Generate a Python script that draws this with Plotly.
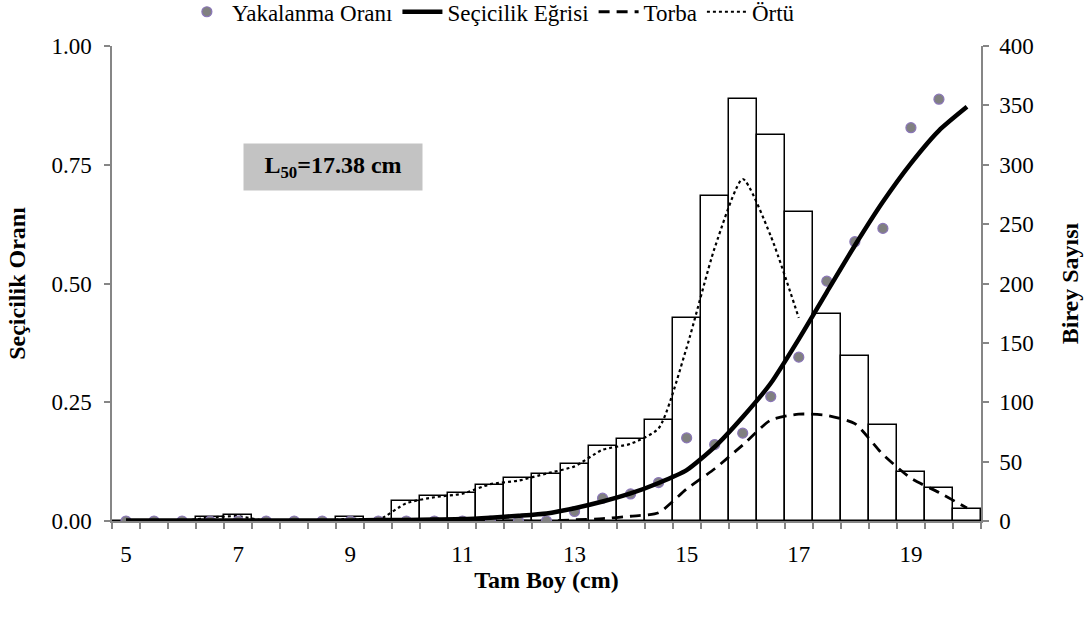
import plotly.graph_objects as go

# ---- data ----
boy = [5, 5.5, 6, 6.5, 7, 7.5, 8, 8.5, 9, 9.5, 10, 10.5, 11, 11.5, 12, 12.5,
       13, 13.5, 14, 14.5, 15, 15.5, 16, 16.5, 17, 17.5, 18, 18.5, 19, 19.5, 20]
birey = [0, 0, 0, 3, 5, 0, 0, 0, 3, 1, 17, 21, 24, 30, 36, 40,
         48, 63, 69, 85, 171, 274, 355, 325, 260, 174, 139, 81, 41, 28, 10]
ortu = [0, 0, 0, 3, 4, 0, 0, 0, 2, 1, 15, 20, 23, 31, 34, 40,
        46, 60, 65, 78, 146, 230, 288, 240, 171, None, None, None, None, None, None]
torba = [0, 0, 0, 0, 0, 0, 0, 0, 0, 0, 0, 0, 0, 0, 0, 0,
         1, 2, 4, 7, 27, 44, 64, 85, 90, 89, 82, 56, 36, 24, 11]
yakalanma = [0, 0, 0, 0, 0, 0, 0, 0, 0, 0, 0, 0, 0, 0, 0, 0,
             0.02, 0.048, 0.057, 0.081, 0.175, 0.161, 0.185, 0.262, 0.345, 0.505,
             0.588, 0.616, 0.828, 0.888, None]
secicilik = [0.001, 0.001, 0.001, 0.001, 0.001, 0.001, 0.001, 0.001, 0.001, 0.002,
             0.002, 0.003, 0.004, 0.007, 0.011, 0.016, 0.027, 0.041, 0.058, 0.08,
             0.107, 0.156, 0.219, 0.29, 0.383, 0.482, 0.58, 0.672, 0.753, 0.822, 0.872]
x_ticks = [5, 7, 9, 11, 13, 15, 17, 19]
left_ticks = [0, 0.25, 0.5, 0.75, 1.0]
right_ticks = [0, 50, 100, 150, 200, 250, 300, 350, 400]

FONT = "'Liberation Serif', 'Times New Roman', 'DejaVu Serif', serif"
GRAY = "#868686"

fig = go.Figure()

fig.add_trace(go.Bar(x=boy, y=birey, width=0.5, yaxis="y",
                     marker=dict(color="white", line=dict(color="black", width=1.5)),
                     showlegend=False))
fig.add_trace(go.Scatter(x=boy, y=yakalanma, yaxis="y2", mode="markers",
                         name="Yakalanma Oranı",
                         marker=dict(color="#808080", size=10,
                                     line=dict(color="#8a76b8", width=1.2))))
fig.add_trace(go.Scatter(x=boy, y=secicilik, yaxis="y2", mode="lines",
                         name="Seçicilik Eğrisi",
                         line=dict(color="black", width=4.5, shape="spline", smoothing=0.6)))
fig.add_trace(go.Scatter(x=boy, y=torba, yaxis="y", mode="lines", name="Torba",
                         line=dict(color="black", width=2.8, dash="11px,7px",
                                   shape="spline", smoothing=0.6)))
fig.add_trace(go.Scatter(x=boy, y=ortu, yaxis="y", mode="lines", name="Örtü",
                         line=dict(color="black", width=2.2, dash="dot",
                                   shape="spline", smoothing=0.6)))

fig.update_layout(
    width=1092, height=618,
    margin=dict(l=112, r=111, t=46, b=97, autoexpand=False),
    paper_bgcolor="white", plot_bgcolor="white",
    font=dict(family=FONT, size=23, color="black"),
    bargap=0,
    showlegend=True,
    legend=dict(orientation="h", x=0.436, xanchor="center", y=1.072,
                yanchor="middle", font=dict(family=FONT, size=23), traceorder="normal",
                bgcolor="rgba(0,0,0,0)", itemwidth=40),
    xaxis=dict(range=[4.75, 20.25], tickvals=x_ticks, ticktext=[str(v) for v in x_ticks],
               ticks="", showline=True, linecolor=GRAY, linewidth=1.5,
               showgrid=False, zeroline=False, ticklabelstandoff=12,
               tickfont=dict(family=FONT, size=23),
               minor=dict(tick0=4.75, dtick=0.5, ticks="outside", ticklen=6,
                          tickcolor=GRAY, tickwidth=1.5, showgrid=False),
               title=dict(text="<b>Tam Boy (cm)</b>", font=dict(family=FONT, size=24),
                          standoff=2)),
    yaxis=dict(range=[0, 400], tickvals=right_ticks, side="right", showline=True,
               linecolor=GRAY, linewidth=1.5, ticks="outside", ticklen=6,
               tickcolor=GRAY, tickwidth=1.5, showgrid=False, zeroline=False,
               ticklabelstandoff=6, tickfont=dict(family=FONT, size=23),
               title=dict(text="<b>Birey Sayısı</b>", font=dict(family=FONT, size=24),
                          standoff=28)),
    yaxis2=dict(range=[0, 1], tickvals=left_ticks, tickformat=".2f", side="left",
                overlaying="y", showline=True, linecolor=GRAY, linewidth=1.5,
                ticks="outside", ticklen=6, tickcolor=GRAY, tickwidth=1.5,
                showgrid=False, zeroline=False, ticklabelstandoff=8,
                tickfont=dict(family=FONT, size=23),
                title=dict(text="<b>Seçicilik Oranı</b>", font=dict(family=FONT, size=24),
                           standoff=19)),
)

fig.add_annotation(x=8.7, y=0.745, xref="x", yref="y2",
                   text="<b>L<sub>50</sub>=17.38 cm</b>", showarrow=False,
                   bgcolor="#c3c3c3", width=172, height=40, borderpad=3,
                   font=dict(family=FONT, size=24, color="black"))

fig.write_html("out.html")
